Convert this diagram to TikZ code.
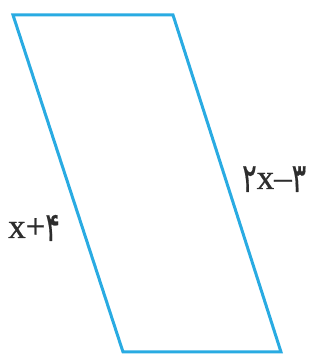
\documentclass[tikz,border=0pt]{standalone}
\usepackage{fontspec}
\setmainfont{Liberation Serif}[FakeBold=0.8]
\newfontfamily\perfont{DejaVu Sans}[FakeBold=0.6]
\definecolor{edgeblue}{RGB}{41,171,226}
\definecolor{textgray}{RGB}{45,45,45}
\newcommand{\pd}[1]{\raisebox{-3pt}{\scalebox{0.9}[1.35]{\perfont\fontsize{30}{32}\selectfont #1}}}
\begin{document}
\begin{tikzpicture}[x=1pt,y=1pt,
  edge/.style={draw=edgeblue,line width=3pt,line join=miter},
  lbl/.style={text=textgray,font=\fontsize{35}{37}\selectfont,inner sep=0pt,anchor=base west}]
\useasboundingbox (0,0) rectangle (323,356);
\coordinate (tl) at (13,341);
\coordinate (tr) at (173,341);
\coordinate (br) at (281,4);
\coordinate (bl) at (123,4);
\draw[edge] (tl) -- (tr) -- (br) -- (bl) -- cycle;
\node[lbl] (left) at (8,118) {x+\pd{۴}};
\node[lbl] (right) at (242,167) {\pd{۲}x–\pd{۳}};
\end{tikzpicture}
\end{document}
